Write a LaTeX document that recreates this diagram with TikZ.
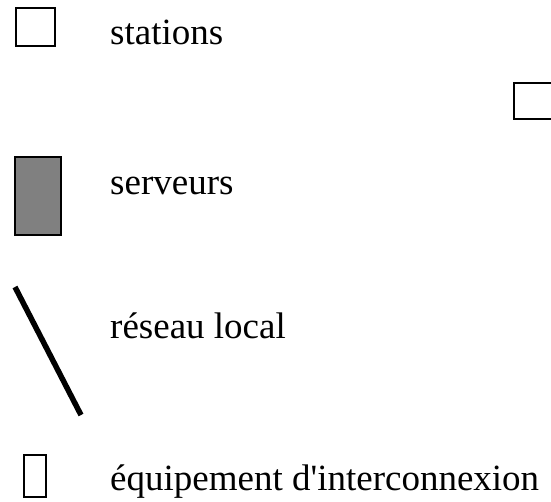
\documentclass[tikz,border=0pt]{standalone}
\usepackage{fontspec}
\setmainfont{Liberation Serif}
\begin{document}
\begin{tikzpicture}[x=1pt,y=-1pt,
  legendtext/.style={anchor=base west,inner sep=0pt,font=\fontsize{37}{42}\selectfont},
  boxline/.style={draw=black,line width=2.5pt}]
  \useasboundingbox (0,0) rectangle (551,501);
  % station symbol
  \draw[boxline] (16,8) rectangle (55,46);
  \node[legendtext] (stations) at (110,44) {stations};
  % a station cut by the right margin
  \begin{scope}
    \clip (0,0) rectangle (551,501);
    \draw[boxline] (514,83) rectangle (580,119);
  \end{scope}
  % server symbol
  \draw[boxline,fill=black!50] (15,157) rectangle (61,235);
  \node[legendtext] (serveurs) at (110,194) {serveurs};
  % local network
  \draw[line width=5.5pt] (15,287) -- (81,415);
  \node[legendtext] (reseau) at (110,338) {réseau local};
  % interconnection device
  \draw[draw=black,line width=1.8pt] (24,455) rectangle (46,497);
  \node[legendtext] (equip) at (110,490) {équipement d\textquotesingle interconnexion};
\end{tikzpicture}
\end{document}
